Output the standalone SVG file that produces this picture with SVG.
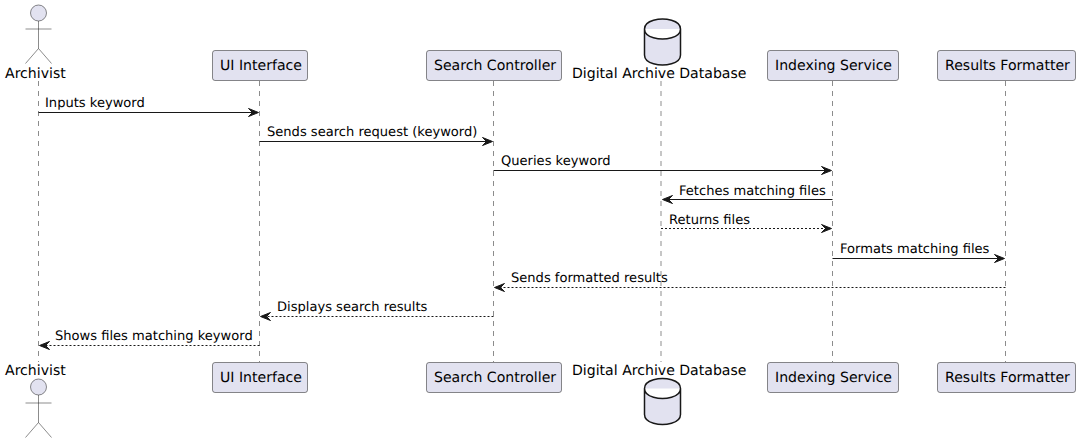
<svg xmlns="http://www.w3.org/2000/svg" width="1081" height="443" viewBox="0 0 1081 443">
<style>
text{font-family:"DejaVu Sans",sans-serif;fill:#000;text-rendering:geometricPrecision}
.n{font-size:14.08px}
.m{font-size:13.07px}
.box{fill:#E2E2F0;stroke:#181818;stroke-width:.5}
.life{stroke:#181818;stroke-width:.5;stroke-dasharray:5,5;fill:none}
.act{fill:none;stroke:#181818;stroke-width:.5}
.head{fill:#E2E2F0;stroke:#181818;stroke-width:.5}
.db{fill:#E2E2F0;stroke:#181818;stroke-width:1.5}
.solid{stroke:#181818;stroke-width:1;fill:none}
.dash{stroke:#181818;stroke-width:1;stroke-dasharray:2,2;fill:none}
.ah{fill:#181818;stroke:#181818;stroke-width:1}
</style>
<defs>
<g id="a"><circle class="head" cx="38.5" cy="13" r="8"/><path class="act" d="M38.5 21V48.5M25.5 29H51.5M38.5 48.5L25.5 63.5M38.5 48.5L51.5 63.5"/></g>
<path id="d" class="db" d="M644.5 29C644.5 19 662.5 19 662.5 19C662.5 19 680.5 19 680.5 29V55C680.5 65 662.5 65 662.5 65C662.5 65 644.5 65 644.5 55V29ZM644.5 29C644.5 39 662.5 39 662.5 39C662.5 39 680.5 39 680.5 29"/>
</defs>
<g id="lifelines">
<path class="life" d="M38.5 81V362M259.5 81V362M493.5 81V362M661 81V362M832.5 81V362M1005.5 81V362"/>
</g>
<g id="connectors">
<path class="solid" d="M38.5 112.5H255"/><polygon class="ah" points="248.5,108.5 258.5,112.5 248.5,116.5 252.5,112.5"/>
<path class="solid" d="M259.5 141.5H489"/><polygon class="ah" points="482.5,137.5 492.5,141.5 482.5,145.5 486.5,141.5"/>
<path class="solid" d="M493.5 170.5H828"/><polygon class="ah" points="821.5,166.5 831.5,170.5 821.5,174.5 825.5,170.5"/>
<path class="solid" d="M832.5 199.5H667"/><polygon class="ah" points="672.5,195.5 662.5,199.5 672.5,203.5 668.5,199.5"/>
<path class="dash" d="M661 228.5H828"/><polygon class="ah" points="821.5,224.5 831.5,228.5 821.5,232.5 825.5,228.5"/>
<path class="solid" d="M832.5 258.5H1001"/><polygon class="ah" points="994.5,254.5 1004.5,258.5 994.5,262.5 998.5,258.5"/>
<path class="dash" d="M1005.5 287.5H499"/><polygon class="ah" points="504.5,283.5 494.5,287.5 504.5,291.5 500.5,287.5"/>
<path class="dash" d="M493.5 316.5H265"/><polygon class="ah" points="270.5,312.5 260.5,316.5 270.5,320.5 266.5,316.5"/>
<path class="dash" d="M259.5 345.5H44"/><polygon class="ah" points="49.5,341.5 39.5,345.5 49.5,349.5 45.5,345.5"/>
<text class="m" x="45" y="107">Inputs keyword</text>
<text class="m" x="267" y="136">Sends search request (keyword)</text>
<text class="m" x="501" y="165">Queries keyword</text>
<text class="m" x="679" y="195">Fetches matching files</text>
<text class="m" x="669" y="224">Returns files</text>
<text class="m" x="840" y="253">Formats matching files</text>
<text class="m" x="511" y="282">Sends formatted results</text>
<text class="m" x="277" y="311">Displays search results</text>
<text class="m" x="55" y="340">Shows files matching keyword</text>
</g>
<g id="archivist-top"><use href="#a"/><text class="n" x="5" y="78">Archivist</text></g>
<g id="ui-top"><rect class="box" x="212.5" y="50.5" width="95" height="30" rx="2.5"/><text class="n" x="220" y="70">UI Interface</text></g>
<g id="search-top"><rect class="box" x="426.5" y="50.5" width="135" height="30" rx="2.5"/><text class="n" x="434" y="70">Search Controller</text></g>
<g id="db-top"><use href="#d"/><text class="n" x="572" y="78">Digital Archive Database</text></g>
<g id="index-top"><rect class="box" x="767.5" y="50.5" width="131" height="30" rx="2.5"/><text class="n" x="775" y="70">Indexing Service</text></g>
<g id="results-top"><rect class="box" x="937.5" y="50.5" width="138" height="30" rx="2.5"/><text class="n" x="945" y="70">Results Formatter</text></g>
<g id="archivist-bottom"><use href="#a" y="374"/><text class="n" x="5" y="375">Archivist</text></g>
<g id="ui-bottom"><rect class="box" x="212.5" y="362.5" width="95" height="30" rx="2.5"/><text class="n" x="220" y="382">UI Interface</text></g>
<g id="search-bottom"><rect class="box" x="426.5" y="362.5" width="135" height="30" rx="2.5"/><text class="n" x="434" y="382">Search Controller</text></g>
<g id="db-bottom"><use href="#d" y="359.5"/><text class="n" x="572" y="375">Digital Archive Database</text></g>
<g id="index-bottom"><rect class="box" x="767.5" y="362.5" width="131" height="30" rx="2.5"/><text class="n" x="775" y="382">Indexing Service</text></g>
<g id="results-bottom"><rect class="box" x="937.5" y="362.5" width="138" height="30" rx="2.5"/><text class="n" x="945" y="382">Results Formatter</text></g>
</svg>
